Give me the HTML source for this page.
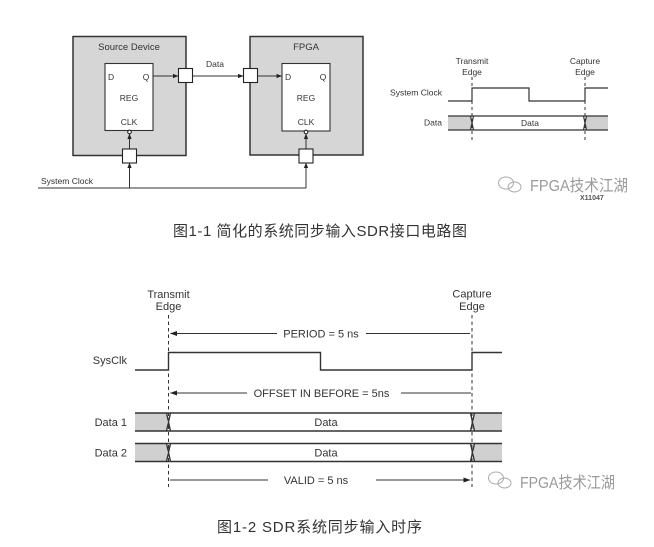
<!DOCTYPE html>
<html><head><meta charset="utf-8"><style>
html,body{margin:0;padding:0;background:#fff;}
svg{display:block;}
</style></head><body>
<svg width="654" height="547" viewBox="0 0 654 547" xmlns="http://www.w3.org/2000/svg" font-family="'Liberation Sans', Arial, sans-serif">
<defs>
<marker id="a" markerWidth="6" markerHeight="6" refX="5" refY="3" orient="auto" markerUnits="userSpaceOnUse"><path d="M0,0.9 L5.5,3 L0,5.1z" fill="#222"/></marker>
<marker id="b" markerWidth="8" markerHeight="8" refX="6.5" refY="4" orient="auto-start-reverse" markerUnits="userSpaceOnUse"><path d="M0,1.5 L7,4 L0,6.5z" fill="#222"/></marker>
</defs>
<rect width="654" height="547" fill="#fff"/>

<!-- ===== Figure 1-1 left: circuit ===== -->
<g stroke="#333" stroke-width="1.5">
<rect x="73" y="36.5" width="113" height="119" fill="#d6d6d6"/>
<rect x="250" y="36.5" width="113" height="118.5" fill="#d6d6d6"/>
</g>
<g stroke="#333" stroke-width="1.1" fill="#fff">
<rect x="105" y="63.5" width="48" height="67"/>
<rect x="282" y="63.5" width="48" height="67.5"/>
</g>
<g font-size="8.5" fill="#333">
<text x="129" y="50" text-anchor="middle" font-size="9.5">Source Device</text>
<text x="306" y="50" text-anchor="middle" font-size="9.5">FPGA</text>
<text x="108" y="80">D</text>
<text x="146" y="80" text-anchor="middle">Q</text>
<text x="129" y="101" text-anchor="middle">REG</text>
<text x="129" y="125" text-anchor="middle">CLK</text>
<text x="285" y="80">D</text>
<text x="323" y="80" text-anchor="middle">Q</text>
<text x="306" y="101" text-anchor="middle">REG</text>
<text x="306" y="125" text-anchor="middle">CLK</text>
<text x="215" y="67" text-anchor="middle">Data</text>
<text x="41" y="184">System Clock</text>
</g>
<g stroke="#333" stroke-width="1" fill="none">
<line x1="153" y1="76" x2="178" y2="76" marker-end="url(#a)"/>
<line x1="193" y1="76" x2="243" y2="76" marker-end="url(#a)"/>
<line x1="258" y1="76" x2="281.5" y2="76" marker-end="url(#a)"/>
<line x1="129.5" y1="149" x2="129.5" y2="134" marker-end="url(#a)"/>
<line x1="129.5" y1="188" x2="129.5" y2="163" marker-end="url(#a)"/>
<line x1="306" y1="149" x2="306" y2="134" marker-end="url(#a)"/>
<line x1="306" y1="188" x2="306" y2="163" marker-end="url(#a)"/>
<line x1="38" y1="188" x2="306" y2="188"/>
</g>
<g stroke="#222" stroke-width="1.1" fill="#fff">
<rect x="178.5" y="68.5" width="14" height="14"/>
<rect x="243.5" y="68.5" width="14" height="14"/>
<rect x="122.5" y="149" width="14" height="14"/>
<rect x="299" y="149" width="14" height="14"/>
<circle cx="129.5" cy="132" r="1.8"/>
<circle cx="306" cy="132" r="1.8"/>
</g>

<!-- ===== Figure 1-1 right: timing ===== -->
<g font-size="8.5" fill="#333" text-anchor="middle">
<text x="472" y="64">Transmit</text>
<text x="472" y="75">Edge</text>
<text x="585" y="64">Capture</text>
<text x="585" y="75">Edge</text>
<text x="442" y="95.5" text-anchor="end">System Clock</text>
<text x="442" y="125.5" text-anchor="end">Data</text>
</g>
<rect x="448" y="116" width="23" height="14" fill="#d0d0d0"/>
<rect x="586" y="116" width="22" height="14" fill="#d0d0d0"/>
<g stroke="#333" stroke-width="1.2" fill="none">
<path d="M448,101 H472 V88 H529 V101 H585 V88 H608"/>
<line x1="448" y1="116" x2="608" y2="116"/>
<line x1="448" y1="130" x2="608" y2="130"/>
<path d="M470.5,116 L473.5,130 M470.5,130 L473.5,116"/>
<path d="M583.5,116 L586.5,130 M583.5,130 L586.5,116"/>
</g>
<text x="530" y="126" font-size="8.5" fill="#333" text-anchor="middle">Data</text>
<g stroke="#333" stroke-width="1" stroke-dasharray="3,3">
<line x1="472" y1="77" x2="472" y2="143"/>
<line x1="585" y1="77" x2="585" y2="143"/>
</g>

<!-- watermark 1 -->
<g stroke="#aaa" stroke-width="1" fill="none">
<ellipse cx="506" cy="183" rx="7.5" ry="6"/>
<ellipse cx="514.5" cy="187" rx="6.5" ry="5"/>
</g>
<text x="530" y="191" font-size="16" fill="#9a9a9a" textLength="98" lengthAdjust="spacingAndGlyphs" font-family="'Liberation Sans','Noto Sans CJK SC',sans-serif">FPGA技术江湖</text>
<text x="580" y="200" font-size="7" fill="#555" font-weight="bold">X11047</text>

<!-- caption 1 -->
<text x="173" y="236" font-size="15" fill="#333" textLength="294" lengthAdjust="spacing" font-family="'Liberation Sans','Noto Sans CJK SC',sans-serif">图1-1 简化的系统同步输入SDR接口电路图</text>

<!-- ===== Figure 1-2 ===== -->
<g font-size="11" fill="#333" text-anchor="middle">
<text x="168.5" y="298">Transmit</text>
<text x="168.5" y="310">Edge</text>
<text x="472" y="297.5">Capture</text>
<text x="472" y="310">Edge</text>
<text x="127" y="364" text-anchor="end">SysClk</text>
<text x="127" y="426" text-anchor="end">Data 1</text>
<text x="127" y="456.5" text-anchor="end">Data 2</text>
<text x="321" y="337.5">PERIOD = 5 ns</text>
<text x="321.5" y="397">OFFSET IN BEFORE = 5ns</text>
<text x="316" y="484">VALID = 5 ns</text>
<text x="326" y="426">Data</text>
<text x="326" y="456.5">Data</text>
</g>
<rect x="135" y="413" width="32" height="18" fill="#d0d0d0"/>
<rect x="474" y="413" width="28" height="18" fill="#d0d0d0"/>
<rect x="135" y="443.5" width="32" height="18" fill="#d0d0d0"/>
<rect x="474" y="443.5" width="28" height="18" fill="#d0d0d0"/>
<g stroke="#333" stroke-width="1.4" fill="none">
<path d="M135,370 H168.5 V352.5 H320.5 V370 H472 V352.5 H502"/>
<line x1="135" y1="413" x2="502" y2="413"/>
<line x1="135" y1="431" x2="502" y2="431"/>
<line x1="135" y1="443.5" x2="502" y2="443.5"/>
<line x1="135" y1="461.5" x2="502" y2="461.5"/>
<path d="M166.5,413 L170.5,431 M166.5,431 L170.5,413"/>
<path d="M470.5,413 L474.5,431 M470.5,431 L474.5,413"/>
<path d="M166.5,443.5 L170.5,461.5 M166.5,461.5 L170.5,443.5"/>
<path d="M470.5,443.5 L474.5,461.5 M470.5,461.5 L474.5,443.5"/>
</g>
<g stroke="#333" stroke-width="1" fill="none">
<line x1="277" y1="333.5" x2="170.5" y2="333.5" marker-end="url(#b)"/>
<line x1="366" y1="333.5" x2="470" y2="333.5"/>
<line x1="247" y1="393" x2="170.5" y2="393" marker-end="url(#b)"/>
<line x1="401" y1="393" x2="471" y2="393"/>
<line x1="170" y1="480" x2="268" y2="480"/>
<line x1="376" y1="480" x2="470" y2="480" marker-end="url(#b)"/>
</g>
<g stroke="#333" stroke-width="1" stroke-dasharray="3.5,3">
<line x1="168.5" y1="315" x2="168.5" y2="487"/>
<line x1="472" y1="315" x2="472" y2="487"/>
</g>

<!-- watermark 2 -->
<g stroke="#aaa" stroke-width="1" fill="none">
<ellipse cx="496" cy="478" rx="7.5" ry="6"/>
<ellipse cx="504.5" cy="483" rx="6.5" ry="5"/>
</g>
<text x="520" y="488" font-size="16" fill="#9a9a9a" textLength="95" lengthAdjust="spacingAndGlyphs" font-family="'Liberation Sans','Noto Sans CJK SC',sans-serif">FPGA技术江湖</text>

<!-- caption 2 -->
<text x="217" y="532" font-size="15" fill="#333" textLength="205" lengthAdjust="spacing" font-family="'Liberation Sans','Noto Sans CJK SC',sans-serif">图1-2  SDR系统同步输入时序</text>
</svg>
</body></html>
